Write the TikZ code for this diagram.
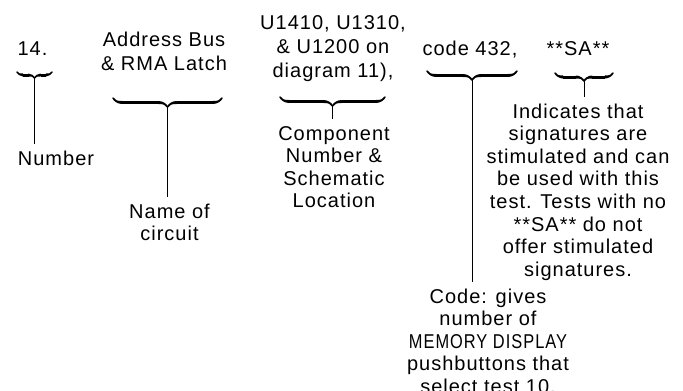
\documentclass[tikz,border=0pt]{standalone}
\usepackage{fontspec}
\setmainfont{Liberation Sans}[LetterSpace=5]
\newfontfamily\narrowcaps{Liberation Sans}[FakeStretch=0.82, LetterSpace=5]
\usetikzlibrary{calc, decorations.pathreplacing, calligraphy}

\begin{document}
\begin{tikzpicture}[x=1pt, y=-1pt,
        txt/.style={anchor=base, align=center, inner sep=0pt, font=\fontsize{20}{22.6}\selectfont},
        lbl/.style={txt, outer sep=7pt},
        brc/.style={decorate, decoration={calligraphic brace, amplitude=#1}, line width=3pt},
        stem/.style={line width=0.8pt}]
        \useasboundingbox (0,0) rectangle (683,391);

        % Test line (placed at the baseline of the last line)
        \node[txt] (num) at (32.5, 55) {14.};
        \node[txt, font=\fontsize{20}{24}\selectfont] (circ) at (164, 70) {Address Bus\\\& RMA Latch};
        \node[txt, font=\fontsize{20}{24}\selectfont] (comp) at (333, 77) {U1410, U1310,\\\& U1200 on\\diagram 11),};
        \node[txt] (code) at (470, 55) {code 432,};
        \node[txt] (sa) at (578, 55) {**SA**};

        % Explanations
        \node[lbl] (numtxt) at (56, 165) {Number};
        \node[lbl, font=\fontsize{20}{22}\selectfont] (circtxt) at (169.5, 240) {Name of\\circuit};
        \node[lbl] (comptxt) at (334, 207.8) {Component\\Number \&\\Schematic\\Location};
        \node[lbl] (satxt) at (578, 276.2) {Indicates that\\signatures are\\stimulated and can\\be used with this\\test. Tests with no\\**SA** do not\\offer stimulated\\signatures.};
        \node[lbl] (codetxt) at (488, 393.4) {Code: gives\\number of\\{\narrowcaps MEMORY DISPLAY}\\pushbuttons that\\select test 10.};

        % Braces (drawn right to left so they open downwards)
        \coordinate (b1) at (17, 72);   \coordinate (e1) at (52, 72);   \coordinate (t1) at (34.5, 78);
        \coordinate (b2) at (113, 98);  \coordinate (e2) at (222, 98);  \coordinate (t2) at (167.5, 107);
        \coordinate (b3) at (280, 97);  \coordinate (e3) at (385, 97);  \coordinate (t3) at (332.5, 106);
        \coordinate (b4) at (427, 71);  \coordinate (e4) at (517, 71);  \coordinate (t4) at (472, 80);
        \coordinate (b5) at (555, 73);  \coordinate (e5) at (613, 73);  \coordinate (t5) at (584, 81);
        \draw[brc=6pt] (e1) -- (b1);
        \draw[brc=9pt] (e2) -- (b2);
        \draw[brc=9pt] (e3) -- (b3);
        \draw[brc=9pt] (e4) -- (b4);
        \draw[brc=8pt] (e5) -- (b5);

        % Stems
        \draw[stem] (t1) -- (t1 |- numtxt.north);
        \draw[stem] (t2) -- (t2 |- circtxt.north);
        \draw[stem] (t3) -- (t3 |- comptxt.north);
        \draw[stem] (t4) -- (t4 |- codetxt.north);
        \draw[stem] (t5) -- (t5 |- satxt.north);
    \end{tikzpicture}
\end{document}
